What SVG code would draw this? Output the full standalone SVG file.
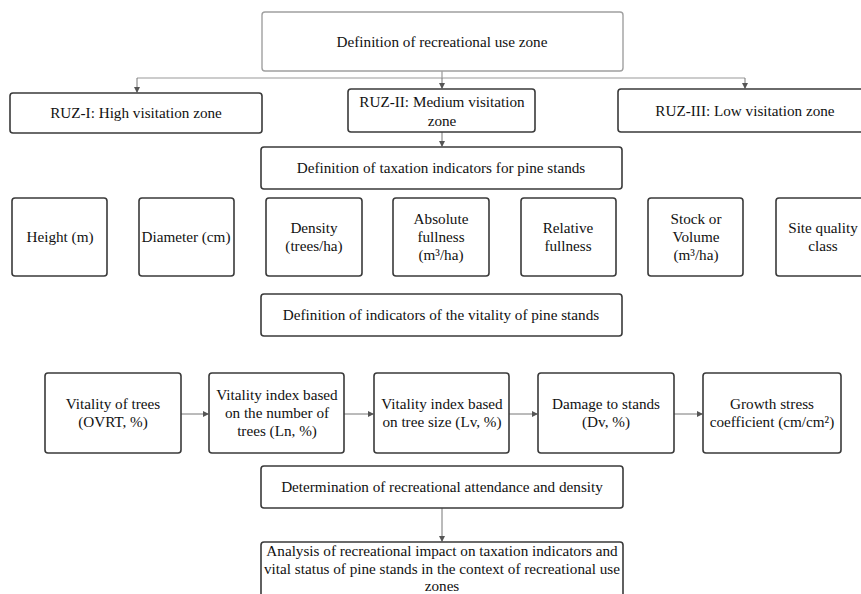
<svg xmlns="http://www.w3.org/2000/svg" width="861" height="594" viewBox="0 0 861 594">
<defs>
<marker id="ah" markerWidth="6" markerHeight="6" refX="5" refY="3" orient="auto" markerUnits="userSpaceOnUse">
<path d="M0,0 L6,3 L0,6 Z" fill="#555"/>
</marker>
<style>
.b{fill:#fff;stroke:#3a3a3a;stroke-width:1.6}
.bl{fill:#fff;stroke:#a0a0a0;stroke-width:1.4}
.t{font-family:'Liberation Serif','DejaVu Serif',serif;font-size:15.2px;fill:#111;text-anchor:middle}
.c{fill:none;stroke:#999;stroke-width:1.2}
.ca{fill:none;stroke:#777;stroke-width:1}
</style>
</defs>
<rect width="861" height="594" fill="#fff"/>
<g id="connectors">
<path class="c" d="M442,71 V78 M137,78 H745"/>
<path class="ca" d="M137,78 V92" marker-end="url(#ah)"/>
<path class="ca" d="M442,78 V88" marker-end="url(#ah)"/>
<path class="ca" d="M745,78 V88" marker-end="url(#ah)"/>
<path class="ca" d="M442,132 V146" marker-end="url(#ah)"/>
<path class="ca" d="M181,414 H208" marker-end="url(#ah)"/>
<path class="ca" d="M344,414 H373" marker-end="url(#ah)"/>
<path class="ca" d="M509,414 H537" marker-end="url(#ah)"/>
<path class="ca" d="M674,414 H702" marker-end="url(#ah)"/>
<path class="ca" d="M442,508 V541" marker-end="url(#ah)"/>
</g>
<g font-family="Liberation Serif, DejaVu Serif, serif">
<g id="n-top"><rect class="bl" x="262" y="12" width="361" height="59" rx="3"/><text class="t" x="442" y="47">Definition of recreational use zone</text></g>
<g id="n-ruz1"><rect class="b" x="10" y="93" width="252" height="40" rx="3"/><text class="t" x="136" y="118">RUZ-I: High visitation zone</text></g>
<g id="n-ruz2"><rect class="b" x="348" y="89" width="187" height="43" rx="3"/><text class="t" x="442" y="107">RUZ-II: Medium visitation</text><text class="t" x="442" y="126">zone</text></g>
<g id="n-ruz3"><rect class="b" x="618" y="89" width="250" height="43" rx="3"/><text class="t" x="745" y="116">RUZ-III: Low visitation zone</text></g>
<g id="n-tax"><rect class="b" x="261" y="147" width="361" height="42" rx="3"/><text class="t" x="441" y="173">Definition of taxation indicators for pine stands</text></g>
<g id="n-height"><rect class="b" x="12" y="198" width="95" height="78" rx="3"/><text class="t" x="60" y="242">Height (m)</text></g>
<g id="n-diam"><rect class="b" x="139" y="198" width="95" height="78" rx="3"/><text class="t" x="186" y="242">Diameter (cm)</text></g>
<g id="n-dens"><rect class="b" x="266" y="198" width="96" height="78" rx="3"/><text class="t" x="314" y="233">Density</text><text class="t" x="314" y="251">(trees/ha)</text></g>
<g id="n-abs"><rect class="b" x="393" y="198" width="96" height="78" rx="3"/><text class="t" x="441" y="224">Absolute</text><text class="t" x="441" y="242">fullness</text><text class="t" x="441" y="260">(m³/ha)</text></g>
<g id="n-rel"><rect class="b" x="521" y="198" width="95" height="78" rx="3"/><text class="t" x="568" y="233">Relative</text><text class="t" x="568" y="251">fullness</text></g>
<g id="n-stock"><rect class="b" x="648" y="198" width="95" height="78" rx="3"/><text class="t" x="696" y="224">Stock or</text><text class="t" x="696" y="242">Volume</text><text class="t" x="696" y="260">(m³/ha)</text></g>
<g id="n-site"><rect class="b" x="776" y="198" width="95" height="78" rx="3"/><text class="t" x="823" y="233">Site quality</text><text class="t" x="823" y="251">class</text></g>
<g id="n-vit"><rect class="b" x="261" y="294" width="361" height="42" rx="3"/><text class="t" x="441" y="320">Definition of indicators of the vitality of pine stands</text></g>
<g id="n-ovrt"><rect class="b" x="45" y="373" width="136" height="80" rx="3"/><text class="t" x="113" y="409">Vitality of trees</text><text class="t" x="113" y="427">(OVRT, %)</text></g>
<g id="n-ln"><rect class="b" x="209" y="373" width="135" height="80" rx="3"/><text class="t" x="277" y="400">Vitality index based</text><text class="t" x="277" y="418">on the number of</text><text class="t" x="277" y="436">trees (Ln, %)</text></g>
<g id="n-lv"><rect class="b" x="374" y="373" width="135" height="80" rx="3"/><text class="t" x="442" y="409">Vitality index based</text><text class="t" x="442" y="427">on tree size (Lv, %)</text></g>
<g id="n-dv"><rect class="b" x="538" y="373" width="136" height="80" rx="3"/><text class="t" x="606" y="409">Damage to stands</text><text class="t" x="606" y="427">(Dv, %)</text></g>
<g id="n-gs"><rect class="b" x="703" y="373" width="138" height="80" rx="3"/><text class="t" x="772" y="409">Growth stress</text><text class="t" x="772" y="427">coefficient (cm/cm²)</text></g>
<g id="n-det"><rect class="b" x="261" y="466" width="362" height="42" rx="3"/><text class="t" x="442" y="492">Determination of recreational attendance and density</text></g>
<g id="n-ana"><rect class="b" x="261" y="542" width="362" height="60" rx="3"/><text class="t" x="442" y="556">Analysis of recreational impact on taxation indicators and</text><text class="t" x="442" y="574">vital status of pine stands in the context of recreational use</text><text class="t" x="442" y="591">zones</text></g>
</g>
</svg>
